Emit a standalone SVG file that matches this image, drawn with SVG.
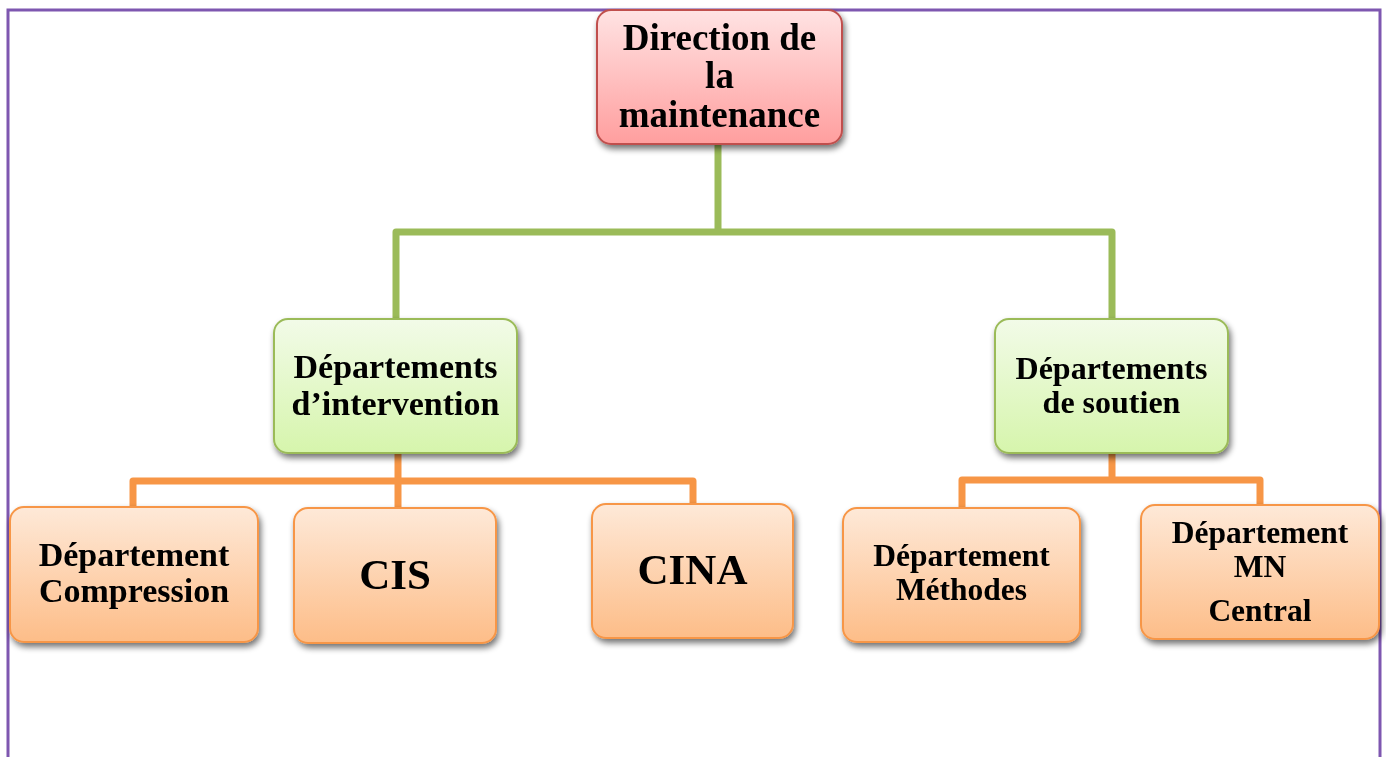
<svg xmlns="http://www.w3.org/2000/svg" width="1386" height="757" viewBox="0 0 1386 757">
  <defs>
    <linearGradient id="gRed" x1="0" y1="0" x2="0" y2="1">
      <stop offset="0" stop-color="#ffe3e3"/>
      <stop offset="1" stop-color="#ff9e9e"/>
    </linearGradient>
    <linearGradient id="gGreen" x1="0" y1="0" x2="0" y2="1">
      <stop offset="0" stop-color="#f2fbe8"/>
      <stop offset="1" stop-color="#d6f5ac"/>
    </linearGradient>
    <linearGradient id="gOrange" x1="0" y1="0" x2="0" y2="1">
      <stop offset="0" stop-color="#fee9d8"/>
      <stop offset="1" stop-color="#fdbd88"/>
    </linearGradient>
    <filter id="shadow" x="-10%" y="-10%" width="125%" height="130%">
      <feGaussianBlur in="SourceAlpha" stdDeviation="3"/>
      <feOffset dx="2" dy="4" result="b"/>
      <feComponentTransfer><feFuncA type="linear" slope="0.55"/></feComponentTransfer>
      <feMerge><feMergeNode/><feMergeNode in="SourceGraphic"/></feMerge>
    </filter>
  </defs>
  <style>
    .t { font-family: "Liberation Serif", "Times New Roman", serif; font-weight: bold; fill: #000; text-anchor: middle; }
    .red { fill: url(#gRed); stroke: #c0504d; stroke-width: 2; }
    .green { fill: url(#gGreen); stroke: #9bbb59; stroke-width: 2; }
    .orange { fill: url(#gOrange); stroke: #f79646; stroke-width: 2; }
    .cg { fill: none; stroke: #9bbb59; stroke-width: 7; stroke-linejoin: round; }
    .co { fill: none; stroke: #f79646; stroke-width: 7; stroke-linejoin: round; }
  </style>

  <rect x="0" y="0" width="1386" height="757" fill="#ffffff"/>
  <!-- outer frame -->
  <rect x="8" y="10" width="1372" height="760" fill="none" stroke="#7e57b0" stroke-width="3"/>

  <!-- connectors -->
  <g id="connectors">
    <path class="cg" d="M718 145 V232 M396 320 V232 H1112 V320"/>
    <path class="co" d="M398 453 V481 M133 508 V481 H693 V505 M398 481 V508"/>
    <path class="co" d="M1112 453 V480 M962 508 V480 H1260 V505"/>
  </g>

  <g id="direction" filter="url(#shadow)">
    <rect class="red" x="597" y="10" width="245" height="134" rx="14"/>
    <text class="t" font-size="37"><tspan x="719.5" y="50">Direction de</tspan><tspan x="719.5" y="88">la</tspan><tspan x="719.5" y="127">maintenance</tspan></text>
  </g>

  <g id="dep-intervention" filter="url(#shadow)">
    <rect class="green" x="274" y="319" width="243" height="134" rx="14"/>
    <text class="t" font-size="34"><tspan x="395.5" y="378">Départements</tspan><tspan x="395.5" y="415">d’intervention</tspan></text>
  </g>

  <g id="dep-soutien" filter="url(#shadow)">
    <rect class="green" x="995" y="319" width="233" height="134" rx="14"/>
    <text class="t" font-size="32"><tspan x="1111.5" y="379">Départements</tspan><tspan x="1111.5" y="413">de soutien</tspan></text>
  </g>

  <g id="dep-compression" filter="url(#shadow)">
    <rect class="orange" x="10" y="507" width="248" height="135" rx="14"/>
    <text class="t" font-size="34"><tspan x="134" y="566">Département</tspan><tspan x="134" y="602">Compression</tspan></text>
  </g>

  <g id="cis" filter="url(#shadow)">
    <rect class="orange" x="294" y="508" width="202" height="135" rx="14"/>
    <text class="t" font-size="43" x="395" y="589">CIS</text>
  </g>

  <g id="cina" filter="url(#shadow)">
    <rect class="orange" x="592" y="504" width="201" height="134" rx="14"/>
    <text class="t" font-size="43" x="692.5" y="584">CINA</text>
  </g>

  <g id="dep-methodes" filter="url(#shadow)">
    <rect class="orange" x="843" y="508" width="237" height="134" rx="14"/>
    <text class="t" font-size="31.5"><tspan x="961.5" y="566">Département</tspan><tspan x="961.5" y="600">Méthodes</tspan></text>
  </g>

  <g id="dep-mn-central" filter="url(#shadow)">
    <rect class="orange" x="1141" y="505" width="238" height="134" rx="14"/>
    <text class="t" font-size="31.5"><tspan x="1260" y="543">Département</tspan><tspan x="1260" y="577">MN</tspan><tspan x="1260" y="621">Central</tspan></text>
  </g>
</svg>
